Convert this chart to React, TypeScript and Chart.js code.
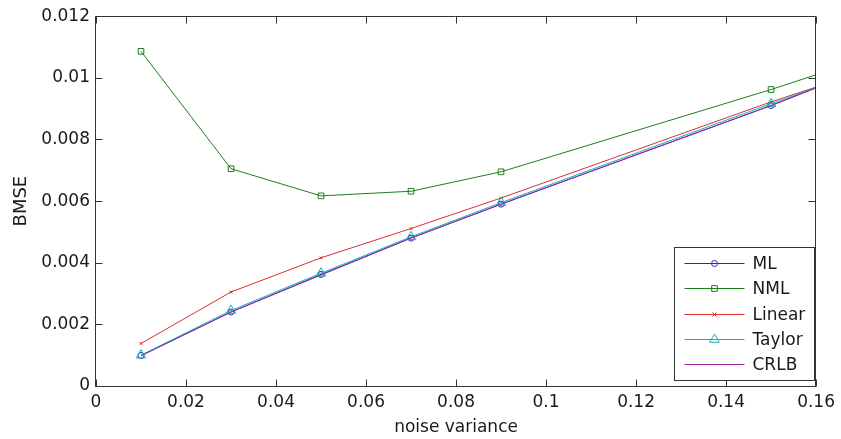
import React, { useEffect, useRef } from 'react';
import { Chart, registerables } from 'chart.js';

Chart.register(...registerables);

const noiseVariance = [0.01, 0.03, 0.05, 0.07, 0.09, 0.15, 0.16];
const mlValues = [0.00099, 0.0024, 0.00362, 0.0048, 0.0059, 0.0091, 0.00968];
const nmlValues = [0.01086, 0.00705, 0.00617, 0.00632, 0.00695, 0.00962, 0.0101];
const linearValues = [0.00138, 0.00305, 0.00416, 0.00511, 0.0061, 0.00922, 0.0097];
const taylorValues = [0.001, 0.00245, 0.00366, 0.00484, 0.00595, 0.00916, 0.00968];
const crlbValues = [0.00098, 0.0024, 0.0036, 0.0048, 0.0059, 0.0091, 0.00967];

const xTickValues = [0, 0.02, 0.04, 0.06, 0.08, 0.1, 0.12, 0.14, 0.16];
const yTickValues = [0, 0.002, 0.004, 0.006, 0.008, 0.01, 0.012];

const seriesNames = ['ML', 'NML', 'Linear', 'Taylor', 'CRLB'];
const xTitle = 'noise variance';
const yTitle = 'BMSE';

const FONT = '"DejaVu Sans", sans-serif';
const TEXT = '#1a1a1a';
const AXIS = '#333333';

type Marker = 'circle' | 'rect' | 'crossRot' | 'triangle' | 'none';

const seriesStyles: { color: string; marker: Marker; radius: number }[] = [
  { color: '#2a2ab8', marker: 'circle', radius: 3 },
  { color: '#1c7f1c', marker: 'rect', radius: 4 },
  { color: '#d83030', marker: 'crossRot', radius: 2 },
  { color: '#10b4b4', marker: 'triangle', radius: 5.5 },
  { color: '#a028a8', marker: 'none', radius: 0 },
];

const seriesValues = [mlValues, nmlValues, linearValues, taylorValues, crlbValues];

function drawMarker(ctx: CanvasRenderingContext2D, m: Marker, x: number, y: number, r: number) {
  ctx.beginPath();
  if (m === 'circle') {
    ctx.arc(x, y, r, 0, Math.PI * 2);
  } else if (m === 'rect') {
    const s = Math.SQRT1_2 * r;
    ctx.rect(x - s, y - s, 2 * s, 2 * s);
  } else if (m === 'crossRot') {
    const s = r * Math.SQRT1_2 * 1.4;
    ctx.moveTo(x - s, y - s);
    ctx.lineTo(x + s, y + s);
    ctx.moveTo(x + s, y - s);
    ctx.lineTo(x - s, y + s);
  } else if (m === 'triangle') {
    let rad = 0;
    ctx.moveTo(x + Math.sin(rad) * r, y - Math.cos(rad) * r);
    rad += (2 * Math.PI) / 3;
    ctx.lineTo(x + Math.sin(rad) * r, y - Math.cos(rad) * r);
    rad += (2 * Math.PI) / 3;
    ctx.lineTo(x + Math.sin(rad) * r, y - Math.cos(rad) * r);
    ctx.closePath();
  }
  ctx.stroke();
}

const framePlugin = {
  id: 'matlabFrame',
  afterDraw(chart: any) {
    const ctx: CanvasRenderingContext2D = chart.ctx;
    const { left, right, top, bottom } = chart.chartArea;
    const xs = chart.scales.x;
    const ys = chart.scales.y;
    const L = Math.round(left) - 0.5;
    const R = Math.round(right) - 0.5;
    const T = Math.round(top) + 0.5;
    const B = Math.round(bottom) + 0.5;
    ctx.save();
    ctx.strokeStyle = AXIS;
    ctx.lineWidth = 1;
    ctx.beginPath();
    ctx.rect(L, T, R - L, B - T);
    ctx.stroke();
    const tl = 7;
    ctx.beginPath();
    xTickValues.forEach((v) => {
      const px = Math.round(xs.getPixelForValue(v)) + 0.5;
      ctx.moveTo(px, B);
      ctx.lineTo(px, B - tl);
      ctx.moveTo(px, T);
      ctx.lineTo(px, T + tl);
    });
    yTickValues.forEach((v) => {
      const py = Math.round(ys.getPixelForValue(v)) + 0.5;
      ctx.moveTo(L, py);
      ctx.lineTo(L + tl, py);
      ctx.moveTo(R, py);
      ctx.lineTo(R - tl, py);
    });
    ctx.stroke();

    // legend box
    const bw = 140;
    const bh = 133;
    const bx = Math.round(right) - 2 - bw + 0.5;
    const by = Math.round(bottom) - 6 - bh + 0.5;
    ctx.fillStyle = '#ffffff';
    ctx.fillRect(bx, by, bw, bh);
    ctx.strokeStyle = AXIS;
    ctx.strokeRect(bx, by, bw, bh);
    ctx.font = `17px ${FONT}`;
    ctx.textBaseline = 'middle';
    ctx.textAlign = 'left';
    chart.data.datasets.forEach((ds: any, i: number) => {
      const st = seriesStyles[i];
      const ry = Math.round(by + 15.5 + i * 25.3) + 0.5;
      ctx.strokeStyle = st.color;
      ctx.lineWidth = 1;
      ctx.beginPath();
      ctx.moveTo(bx + 10, ry);
      ctx.lineTo(bx + 70, ry);
      ctx.stroke();
      if (st.marker !== 'none') drawMarker(ctx, st.marker, bx + 40, ry, st.radius);
      ctx.fillStyle = TEXT;
      ctx.fillText(ds.label, bx + 78, ry + 1);
    });
    ctx.restore();
  },
};

const whiteBg = {
  id: 'whiteBg',
  beforeDraw(chart: any) {
    const ctx = chart.ctx;
    ctx.save();
    ctx.fillStyle = '#ffffff';
    ctx.fillRect(0, 0, chart.width, chart.height);
    ctx.restore();
  },
};

export default function App() {
  const ref = useRef<HTMLCanvasElement | null>(null);

  useEffect(() => {
    document.body.style.margin = '0';
    const canvas = ref.current;
    if (!canvas) return;
    const lastIdx = noiseVariance.length - 1;
    const datasets = seriesNames.map((name, i) => {
      const st = seriesStyles[i];
      return {
        label: name,
        order: seriesNames.length - i,
        data: noiseVariance.map((x, j) => ({ x, y: seriesValues[i][j] })),
        borderColor: st.color,
        borderWidth: 1,
        backgroundColor: 'rgba(0,0,0,0)',
        pointStyle: st.marker === 'none' ? false : st.marker,
        pointRadius: noiseVariance.map((_, j) => (j === lastIdx || st.marker === 'none' ? 0 : st.radius)),
        pointBorderColor: st.color,
        pointBackgroundColor: 'rgba(0,0,0,0)',
        pointBorderWidth: 1,
        tension: 0,
        clip: 0,
      };
    });

    const chart = new Chart(canvas, {
      type: 'line',
      data: { datasets } as any,
      options: {
        responsive: false,
        animation: false,
        events: [],
        layout: { padding: { top: 14, right: 20, left: 0, bottom: 0 } },
        plugins: { legend: { display: false }, tooltip: { enabled: false } },
        scales: {
          x: {
            type: 'linear',
            min: 0,
            max: 0.16,
            afterFit: (s: any) => {
              s.height = 53;
            },
            afterBuildTicks: (s: any) => {
              s.ticks = xTickValues.map((v) => ({ value: v }));
            },
            grid: { display: false, drawTicks: false },
            border: { display: false },
            ticks: {
              padding: 6,
              maxRotation: 0,
              autoSkip: false,
              color: TEXT,
              font: { family: FONT, size: 17 },
              callback: (v: any) => String(+Number(v).toFixed(4)),
            },
            title: {
              display: true,
              text: xTitle,
              color: TEXT,
              font: { family: FONT, size: 17 },
              padding: { top: 1, bottom: 1 },
            },
          },
          y: {
            type: 'linear',
            min: 0,
            max: 0.012,
            afterFit: (s: any) => {
              s.width = 96;
            },
            afterBuildTicks: (s: any) => {
              s.ticks = yTickValues.map((v) => ({ value: v }));
            },
            grid: { display: false, drawTicks: false },
            border: { display: false },
            ticks: {
              padding: 6,
              autoSkip: false,
              color: TEXT,
              font: { family: FONT, size: 17 },
              callback: (v: any) => String(+Number(v).toFixed(4)),
            },
            title: {
              display: true,
              text: yTitle,
              color: TEXT,
              font: { family: FONT, size: 18 },
              padding: { top: 11, bottom: 11 },
            },
          },
        },
      } as any,
      plugins: [whiteBg, framePlugin],
    });
    return () => chart.destroy();
  }, []);

  return (
    <div style={{ position: 'absolute', left: 0, top: 0, width: 841, height: 439 }}>
      <canvas ref={ref} width={841} height={439} style={{ display: 'block', width: 841, height: 439 }} />
    </div>
  );
}
